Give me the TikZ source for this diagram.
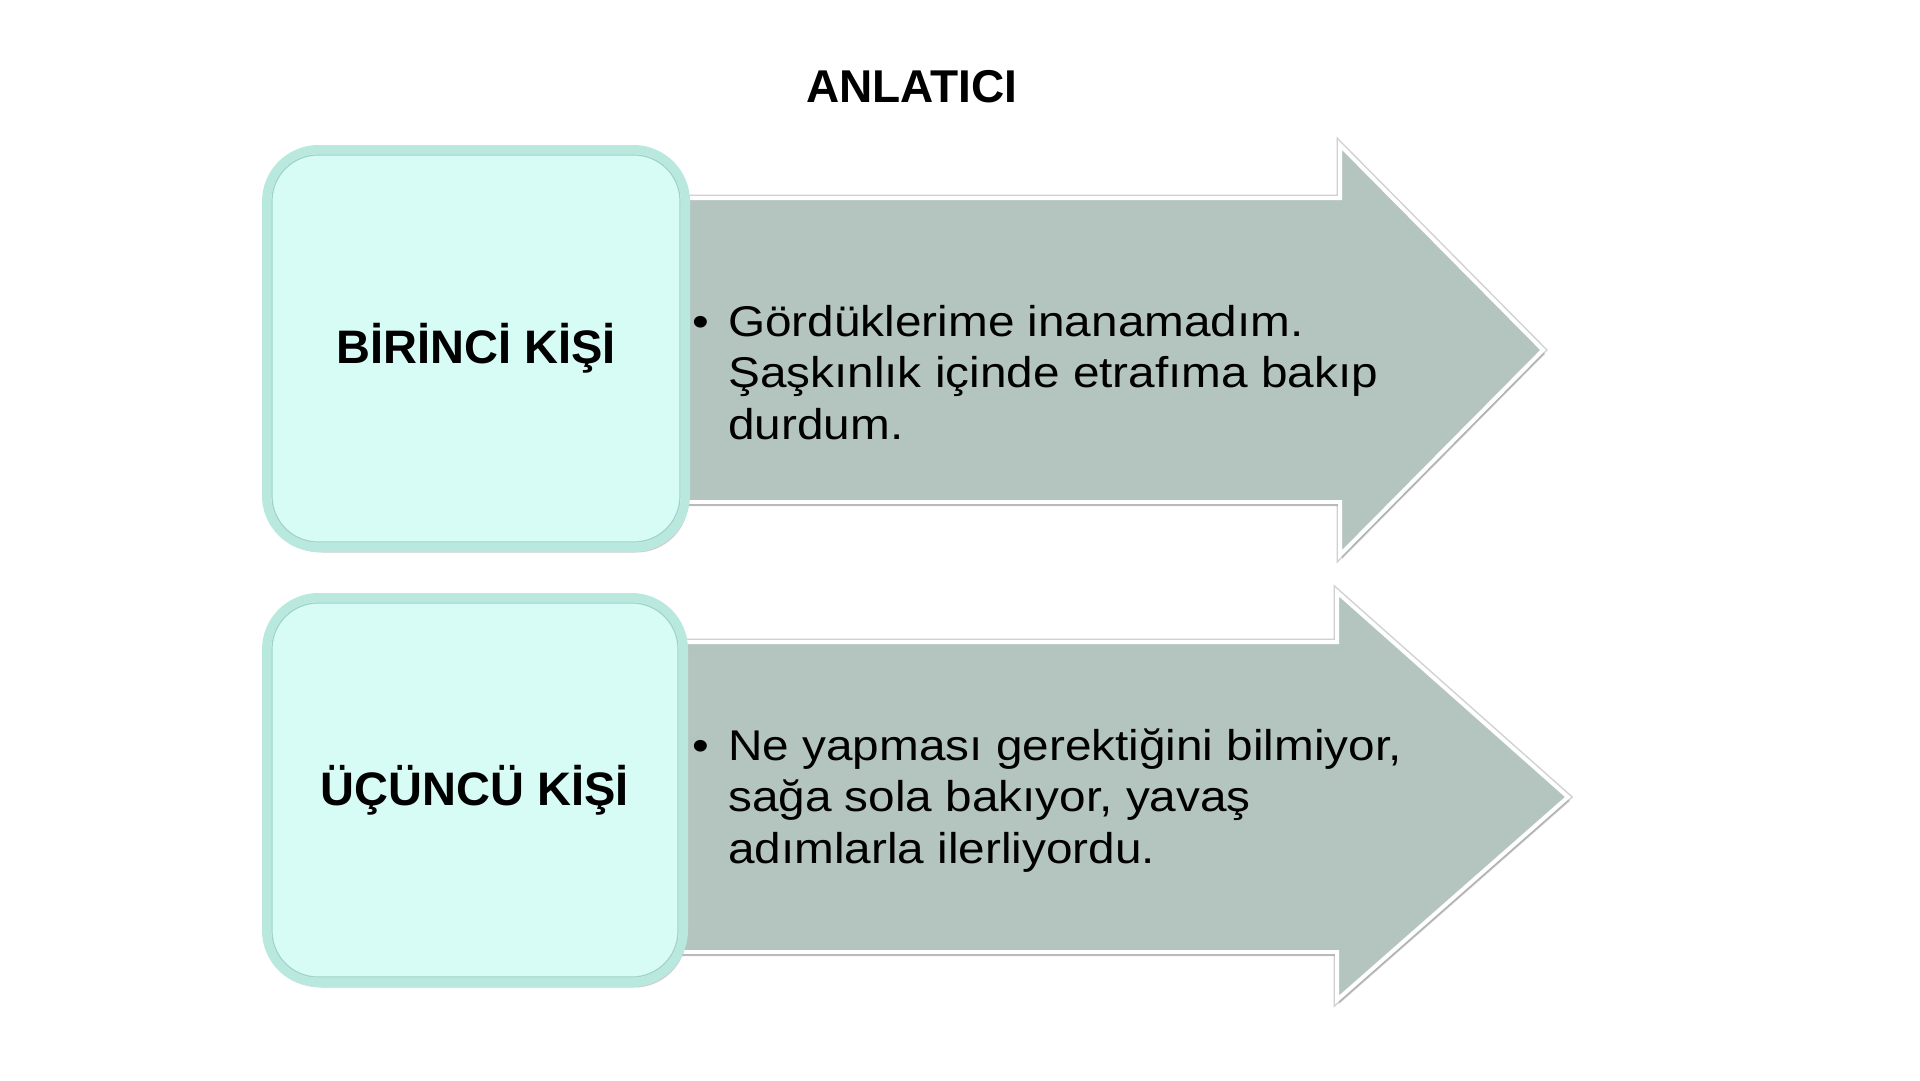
\documentclass[tikz,border=0pt]{standalone}
\usepackage{fontspec}
\setmainfont{Liberation Sans}
\newfontfamily\maddefont[FakeStretch=1.11]{Liberation Sans}
\usetikzlibrary{shadows}
\definecolor{kisifill}{HTML}{D7FCF5}
\definecolor{kisirim}{HTML}{B9E8DE}
\definecolor{kisiline}{HTML}{A0D2C7}
\definecolor{okfill}{HTML}{B4C5C0}
\tikzset{
    kisibox/.style={draw=kisirim, line width=9pt, fill=kisifill, rounded corners=52pt, inner sep=0pt,
        font=\fontsize{47}{56}\selectfont\bfseries,
        drop shadow={shadow xshift=3pt, shadow yshift=-5pt, opacity=0.3, fill=black!60}},
    kisiline/.style={draw=kisiline, line width=1.2pt, rounded corners=46pt},
    okshape/.style={fill=okfill, draw=white, line width=4pt, line join=miter,
        preaction={draw=black!18, line width=7pt},
        drop shadow={shadow xshift=2pt, shadow yshift=-4pt, opacity=0.3, fill=black!60}},
    madde/.style={inner sep=0pt, align=left, font=\maddefont\fontsize{43}{51.5}\selectfont},
}

\begin{document}
\begin{tikzpicture}[x=1pt, y=-1pt]
    \newcommand\rowA{350}
    \newcommand\rowB{797}

    \fill[white] (0,0) rectangle (1920,1080);
    \useasboundingbox (0,0) rectangle (1920,1080);

    \node[font=\fontsize{46}{55}\selectfont\bfseries] (baslik) at (912, 87) {ANLATICI};

    % arrows behind the boxes
    \draw[okshape] (620, \rowA - 152) -- (1340, \rowA - 152) -- (1340, \rowA - 205) -- (1543, \rowA)
        -- (1340, \rowA + 205) -- (1340, \rowA + 152) -- (620, \rowA + 152) -- cycle;
    \draw[okshape] (620, \rowB - 155) -- (1337, \rowB - 155) -- (1337, \rowB - 205) -- (1568, \rowB)
        -- (1337, \rowB + 203) -- (1337, \rowB + 155) -- (620, \rowB + 155) -- cycle;

    \node[kisibox, minimum width=419, minimum height=398] (birinci) at (476, 348.5) {BİRİNCİ KİŞİ};
    \draw[kisiline] (272, 155) rectangle (680, 542);
    \node[kisibox, minimum width=417, minimum height=385] (ucuncu) at (475, 790) {ÜÇÜNCÜ KİŞİ};
    \draw[kisiline] (272, 603) rectangle (678, 977);

    % base anchor sits on the last line
    \node[madde, anchor=base west] (birinciMetin) at (728, 439)
        {\llap{\makebox[36pt][l]{•}}Gördüklerime inanamadım.\\Şaşkınlık içinde etrafıma bakıp\\durdum.};
    \node[madde, anchor=base west] (ucuncuMetin) at (728, 863)
        {\llap{\makebox[36pt][l]{•}}Ne yapması gerektiğini bilmiyor,\\sağa sola bakıyor, yavaş\\adımlarla ilerliyordu.};
\end{tikzpicture}
\end{document}
